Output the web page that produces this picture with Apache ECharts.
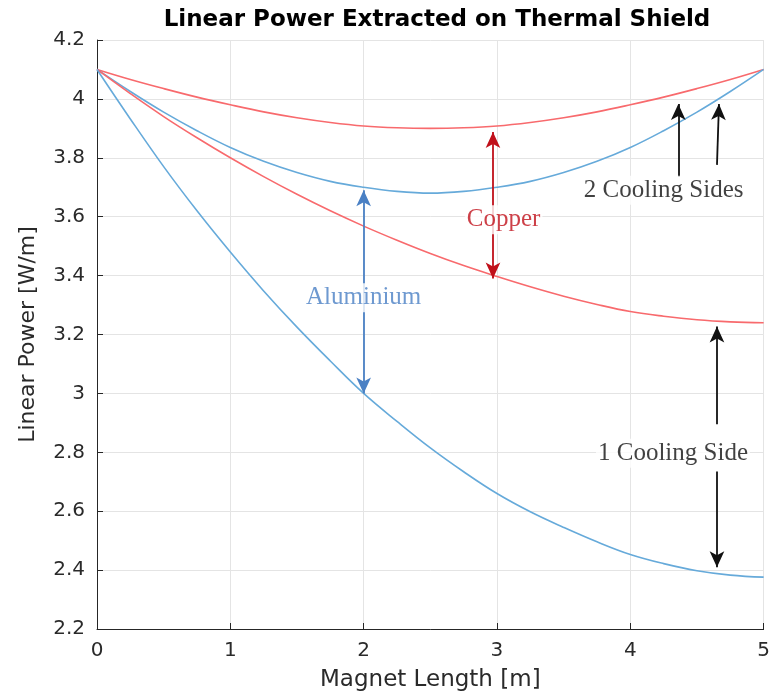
<!DOCTYPE html>
<html>
<head>
<meta charset="utf-8">
<script src="https://cdn.jsdelivr.net/npm/echarts@6/dist/echarts.min.js"></script>
<style>
  html, body { margin: 0; padding: 0; background: #fff; }
  #chart { width: 773px; height: 697px; }
</style>
</head>
<body>
<div id="chart"></div>
<script>
// Magnet length positions [m]
const lengths = [0, 0.25, 0.5, 0.75, 1, 1.25, 1.5, 1.75, 2, 2.25, 2.5,
                 2.75, 3, 3.25, 3.5, 3.75, 4, 4.25, 4.5, 4.75, 5];

// Linear power [W/m] per configuration
const copperTwoSides = [4.10, 4.066, 4.035, 4.006, 3.98, 3.956, 3.936, 3.92, 3.908, 3.902, 3.90,
                        3.902, 3.908, 3.92, 3.936, 3.956, 3.98, 4.006, 4.035, 4.066, 4.10];
const aluminiumTwoSides = [4.10, 4.025, 3.955, 3.892, 3.835, 3.788, 3.75, 3.72, 3.70, 3.686, 3.68,
                           3.686, 3.70, 3.72, 3.75, 3.788, 3.835, 3.892, 3.955, 4.025, 4.10];
const copperOneSide = [4.10, 4.018, 3.94, 3.868, 3.80, 3.736, 3.676, 3.62, 3.568, 3.52, 3.475,
                       3.434, 3.397, 3.362, 3.33, 3.302, 3.278, 3.262, 3.25, 3.243, 3.24];
const aluminiumOneSide = [4.10, 3.932, 3.77, 3.62, 3.48, 3.348, 3.225, 3.11, 3.00, 2.905, 2.815,
                          2.734, 2.66, 2.598, 2.545, 2.496, 2.453, 2.422, 2.398, 2.383, 2.376];

// Annotation arrows: [x1, y1, x2, y2, headAtStart, headAtEnd]
const blueArrows  = [[2.0, 3.00, 2.0, 3.69, true, true]];
const redArrows   = [[2.97, 3.39, 2.97, 3.888, true, true]];
const blackArrows = [
  [4.36, 3.735, 4.36, 3.983, false, true],
  [4.65, 3.776, 4.665, 3.983, false, true],
  [4.65, 2.895, 4.65, 3.227, false, true],
  [4.65, 2.735, 4.65, 2.41, false, true]
];

// Annotation labels: [x, y, text]
const blueLabels  = [[2.0, 3.325, 'Aluminium']];
const redLabels   = [[3.05, 3.59, 'Copper']];
const blackLabels = [[4.25, 3.69, '2 Cooling Sides'], [4.32, 2.797, '1 Cooling Side']];

const RED = '#f86a6d';
const BLUE = '#66aada';
const ARROW_BLUE = '#4a80c4';
const ARROW_RED = '#c0101a';
const AXIS = '#262626';
const SANS = 'DejaVu Sans';

const pairs = ys => lengths.map((x, i) => [x, ys[i]]);

function curve(name, ys, color) {
  return {
    name, type: 'line', data: pairs(ys), smooth: 0.4,
    showSymbol: false, lineStyle: { color, width: 1.6 }, z: 3, silent: true
  };
}

function arrowLines(list) {
  return list.map(a => [
    { coord: [a[0], a[1]], symbol: a[4] ? 'arrow' : 'none' },
    { coord: [a[2], a[3]], symbol: a[5] ? 'arrow' : 'none' }
  ]);
}

function arrowSeries(list, color) {
  return {
    type: 'line', data: [], silent: true, z: 4,
    markLine: {
      silent: true, animation: false,
      symbolSize: [11, 16],
      label: { show: false },
      lineStyle: { color, width: 1.8, type: 'solid' },
      emphasis: { disabled: true },
      data: arrowLines(list)
    }
  };
}

function labelSeries(list, color) {
  return {
    type: 'scatter', silent: true, z: 6, symbolSize: 0,
    data: list.map(l => ({ value: [l[0], l[1]], name: l[2] })),
    label: {
      show: true, position: 'inside', formatter: p => p.name,
      fontFamily: 'Liberation Serif', fontSize: 25, color,
      backgroundColor: '#fff', padding: [2, 2, 2, 2]
    }
  };
}

const chart = echarts.init(document.getElementById('chart'), null, { renderer: 'canvas' });
chart.setOption({
  animation: false,
  backgroundColor: '#fff',
  title: {
    text: 'Linear Power Extracted on Thermal Shield',
    left: 432, top: 4, textAlign: 'center',
    textStyle: { fontFamily: SANS, fontWeight: 'bold', fontSize: 23, color: '#000' }
  },
  grid: { left: 97, right: 5, top: 40, bottom: 67 },
  xAxis: {
    type: 'value', min: 0, max: 5, interval: 1,
    name: 'Magnet Length [m]', nameLocation: 'middle', nameGap: 40,
    nameTextStyle: { fontFamily: SANS, fontSize: 23, color: '#2a2a2a' },
    axisLine: { show: true, lineStyle: { color: AXIS, width: 1 } },
    axisTick: { show: true, inside: true, length: 6, lineStyle: { color: AXIS } },
    axisLabel: { fontFamily: SANS, fontSize: 20, color: '#2a2a2a', margin: 12 },
    splitLine: { show: true, lineStyle: { color: '#e4e4e4', width: 1 } }
  },
  yAxis: {
    type: 'value', min: 2.2, max: 4.2, interval: 0.2,
    name: 'Linear Power [W/m]', nameLocation: 'middle', nameGap: 58,
    nameTextStyle: { fontFamily: SANS, fontSize: 22, color: '#2a2a2a' },
    axisLine: { show: true, lineStyle: { color: AXIS, width: 1 } },
    axisTick: { show: true, inside: true, length: 6, lineStyle: { color: AXIS } },
    axisLabel: {
      fontFamily: SANS, fontSize: 20, color: '#2a2a2a', margin: 12,
      formatter: v => String(Math.round(v * 10) / 10)
    },
    splitLine: { show: true, lineStyle: { color: '#e4e4e4', width: 1 } }
  },
  series: [
    curve('Copper, 2 cooling sides', copperTwoSides, RED),
    curve('Aluminium, 2 cooling sides', aluminiumTwoSides, BLUE),
    curve('Copper, 1 cooling side', copperOneSide, RED),
    curve('Aluminium, 1 cooling side', aluminiumOneSide, BLUE),
    arrowSeries(blueArrows, ARROW_BLUE),
    arrowSeries(redArrows, ARROW_RED),
    arrowSeries(blackArrows, '#111'),
    labelSeries(blueLabels, ARROW_BLUE),
    labelSeries(redLabels, ARROW_RED),
    labelSeries(blackLabels, '#111')
  ]
});
</script>
</body>
</html>
